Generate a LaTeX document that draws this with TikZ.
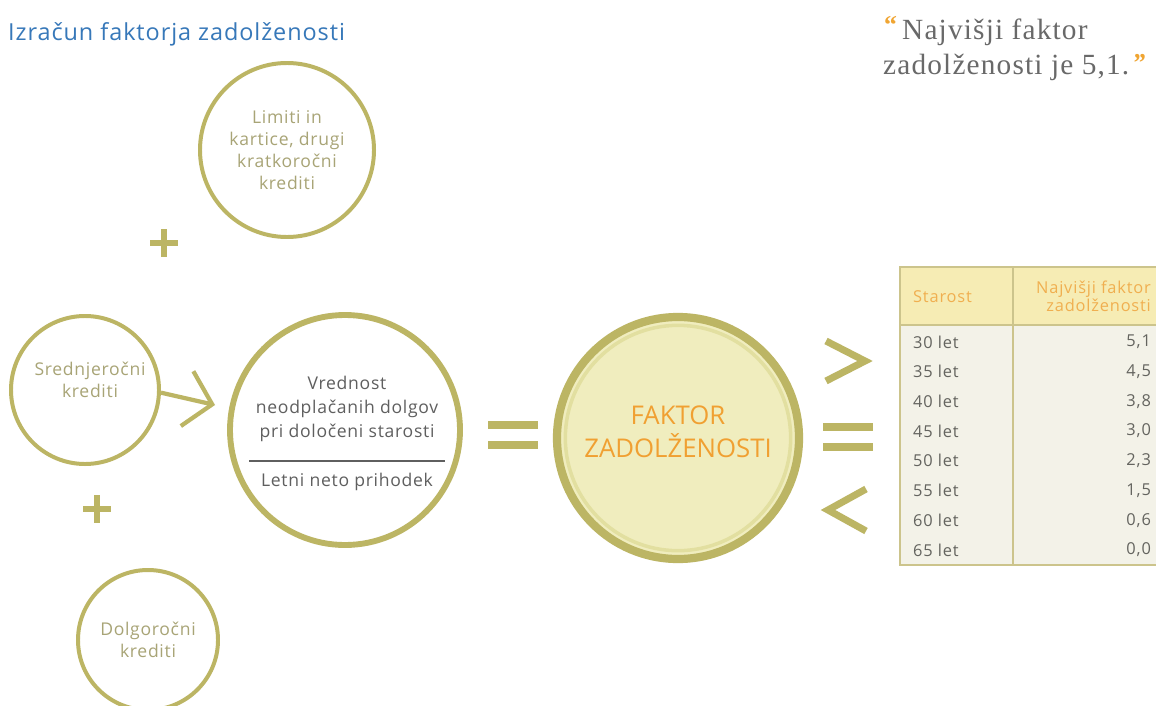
\documentclass[tikz,border=0pt]{standalone}
\usepackage{fontspec}
\setmainfont{Open Sans}
\newfontfamily\qfont[LetterSpace=4]{Liberation Serif}
\newfontfamily\qmark{Liberation Serif}
\newfontfamily\titlefont[LetterSpace=4]{Open Sans}
\newfontfamily\circfont[LetterSpace=4]{Open Sans}
\newfontfamily\tblfont[LetterSpace=5]{Open Sans}
\usetikzlibrary{arrows.meta}
\definecolor{ringc}{RGB}{188,181,100}
\definecolor{ctxt}{RGB}{168,164,118}
\definecolor{midtxt}{RGB}{95,95,95}
\definecolor{titleblue}{RGB}{55,120,185}
\definecolor{quotegrey}{RGB}{105,105,105}
\definecolor{qorange}{RGB}{240,165,50}
\definecolor{bigorange}{RGB}{240,160,50}
\definecolor{bigfill}{RGB}{240,237,190}
\definecolor{innerring}{RGB}{226,223,160}
\definecolor{tblborder}{RGB}{204,196,140}
\definecolor{headfill}{RGB}{246,236,180}
\definecolor{bodyfill}{RGB}{243,242,232}
\definecolor{headtxt}{RGB}{240,175,80}
\definecolor{tbltxt}{RGB}{100,100,95}
\begin{document}
\begin{tikzpicture}[x=0.03cm,y=-0.03cm,
  ring/.style={circle,draw=ringc,line width=3.4pt,inner sep=0pt},
  ctext/.style={text=ctxt,align=center,font=\circfont\fontsize{15}{18.8}\selectfont},
  mtext/.style={text=midtxt,align=center,font=\circfont\fontsize{15}{20.5}\selectfont},
  plussign/.style={draw=ringc,line width=4.4pt},
  symline/.style={draw=ringc,line width=6pt},
  ttext/.style={text=tbltxt,font=\tblfont\fontsize{14}{16}\selectfont},
  htext/.style={text=headtxt,font=\tblfont\fontsize{14}{15.5}\selectfont}]
\useasboundingbox[fill=white] (0,0) rectangle (1156,706);

% title
\node[anchor=base west,text=titleblue,font=\titlefont\fontsize{20}{22}\selectfont,inner sep=0pt] (title) at (8,41) {Izračun faktorja zadolženosti};

% quote
\node[anchor=base west,text=quotegrey,font=\qfont\fontsize{25}{28}\selectfont,inner sep=0pt] (q1) at (902,40) {Najvišji faktor};
\node[anchor=base west,text=quotegrey,font=\qfont\fontsize{25}{28}\selectfont,inner sep=0pt] (q2) at (883,75) {zadolženosti je 5,1.};
\node[anchor=base west,text=qorange,font=\qmark\bfseries\fontsize{22}{24}\selectfont,inner sep=0pt] (qo) at (884,34) {“};
\node[anchor=base west,text=qorange,font=\qmark\bfseries\itshape\fontsize{22}{24}\selectfont,inner sep=0pt] (qc) at (1132,72) {”};

% top circle
\node[ring,minimum size=5.22cm,ctext] (lim) at (287,150) {Limiti in\\kartice, drugi\\kratkoročni\\krediti};
\draw[plussign] (164,229) -- (164,257) (150,243) -- (178,243);

% left circle
\node[ring,minimum size=4.44cm] (sred) at (85,390) {};
\node[ctext] (sredt) at (90,380) {Srednjeročni\\krediti};
\coordinate (tip) at (215,405);
\draw[draw=ringc,line width=3.6pt,-{Straight Barb[length=22pt,width=48pt]}] (sred.-2) -- (tip);

% centre circle
\node[ring,line width=5pt,minimum size=6.9cm] (mid) at (345,430) {};
\node[mtext] (midtop) at (347,409) {Vrednost\\neodplačanih dolgov\\pri določeni starosti};
\node[mtext] (midbot) at (347,482) {Letni neto prihodek};
\draw[midtxt,line width=1.2pt] ([shift={(-96,31)}]mid.center) -- ([shift={(100,31)}]mid.center);

\draw[plussign] (97,495) -- (97,523) (83,509) -- (111,509);

% bottom circle
\node[ring,minimum size=4.2cm,ctext] (dolg) at (148,640) {Dolgoročni\\krediti};

% equals left
\draw[symline] (488,425) -- (538,425) (488,445) -- (538,445);

% big circle
\node[circle,fill=bigfill,draw=ringc,line width=7pt,minimum size=7.26cm,inner sep=0pt] (fz) at (678,438) {};
\draw[innerring,line width=3pt] (fz.center) circle (3.38cm);
\node[text=bigorange,align=center,font=\fontsize{22}{28}\selectfont] (fzt) at (678,432) {FAKTOR\\ZADOLŽENOSTI};

% comparison symbols
\draw[symline,line join=miter] (826,341) -- (865,361) -- (826,381);
\draw[symline] (823,427) -- (873,427) (823,447) -- (873,447);
\draw[symline,line join=miter] (866,489) -- (828,510) -- (866,531);

% table
\fill[headfill] (900,267) rectangle (1160,325);
\fill[bodyfill] (900,325) rectangle (1160,565);
\draw[tblborder,line width=1.8pt] (900,267) rectangle (1160,565);
\draw[tblborder,line width=1.8pt] (900,325) -- (1160,325);
\draw[tblborder,line width=1.8pt] (1013,267) -- (1013,565);
\node[htext,anchor=west] (hs) at (909,297) {Starost};
\node[htext,anchor=east,align=right] (hf) at (1155,296) {Najvišji faktor\\zadolženosti};
\foreach \a/\v [count=\i from 0] in {30/5{,}1,35/4{,}5,40/3{,}8,45/3{,}0,50/2{,}3,55/1{,}5,60/0{,}6,65/0{,}0}{
  \node[ttext,anchor=west] (age\i) at (909,{342+29.7*\i}) {\a\ let};
  \node[ttext,anchor=east] (val\i) at (1155,{342+29.7*\i}) {\v};
}
\end{tikzpicture}
\end{document}
